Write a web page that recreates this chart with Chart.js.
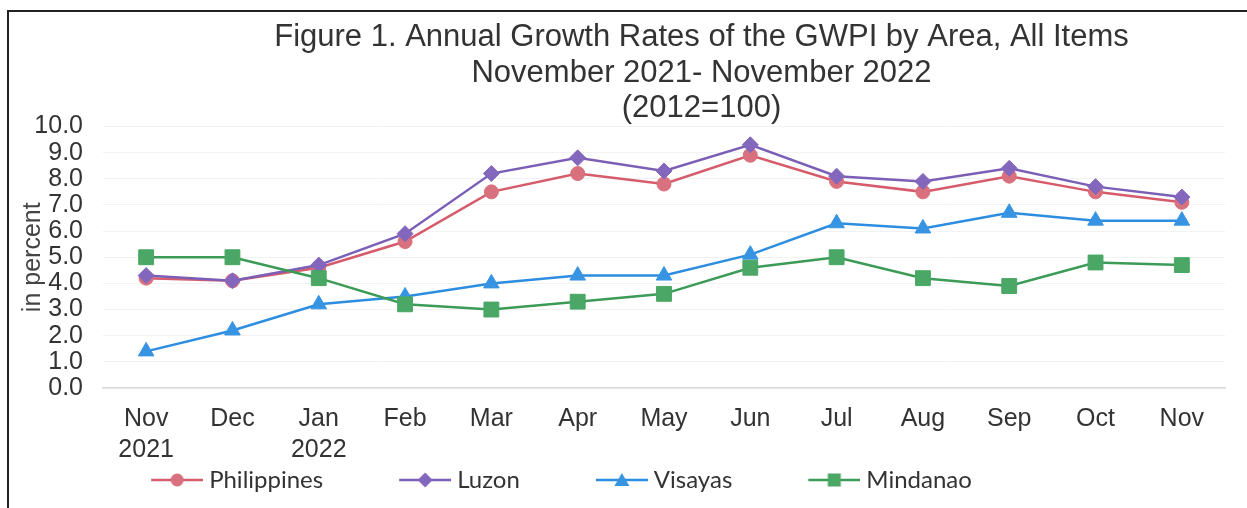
<!DOCTYPE html>
<html>
<head>
<meta charset="utf-8">
<script src="https://cdn.jsdelivr.net/npm/chart.js@4"></script>
<style>
  html, body { margin: 0; padding: 0; background: #fff; }
  #wrap { position: relative; width: 1247px; height: 508px; overflow: hidden; }
  .rule { position: absolute; background: #222; pointer-events: none; }
</style>
</head>
<body>
<div id="wrap">
  <canvas id="chart" width="1247" height="508"></canvas>
  <div class="rule" style="left:7px; top:10px; width:1240px; height:2px;"></div>
  <div class="rule" style="left:7px; top:10px; width:2px; height:498px;"></div>
</div>
<script>
/* DATA */
const months = [['Nov', '2021'], 'Dec', ['Jan', '2022'], 'Feb', 'Mar', 'Apr', 'May', 'Jun', 'Jul', 'Aug', 'Sep', 'Oct', 'Nov']
const philippines = [4.2, 4.1, 4.6, 5.6, 7.5, 8.2, 7.8, 8.9, 7.9, 7.5, 8.1, 7.5, 7.1]
const luzon = [4.3, 4.1, 4.7, 5.9, 8.2, 8.8, 8.3, 9.3, 8.1, 7.9, 8.4, 7.7, 7.3]
const visayas = [1.4, 2.2, 3.2, 3.5, 4.0, 4.3, 4.3, 5.1, 6.3, 6.1, 6.7, 6.4, 6.4]
const mindanao = [5.0, 5.0, 4.2, 3.2, 3.0, 3.3, 3.6, 4.6, 5.0, 4.2, 3.9, 4.8, 4.7]

const titleLines = ['Figure 1. Annual Growth Rates of the GWPI by Area, All Items', 'November 2021- November 2022', '(2012=100)']
const yTitle = 'in percent'

/* STYLE */
const series = [
  { label: 'Philippines', data: philippines, line: '#d65b6b', fill: '#d8707d', marker: 'circle', radius: 7 },
  { label: 'Luzon', data: luzon, line: '#7b5fb6', fill: '#8367bd', marker: 'rectRot', radius: 8 },
  { label: 'Visayas', data: visayas, line: '#2d8de0', fill: '#3794e2', marker: 'triangle', radius: 9 },
  { label: 'Mindanao', data: mindanao, line: '#3b9b57', fill: '#4aa765', marker: 'rect', radius: 10.5 }
]

// legend icon: short line with the marker in the middle (blank margin on the left for spacing)
function makeIcon(s) {
  const c = document.createElement('canvas')
  c.width = 128
  c.height = 20
  const g = c.getContext('2d')
  const cx = 102, cy = 10
  g.strokeStyle = s.line
  g.lineWidth = 2.5
  g.beginPath()
  g.moveTo(76, cy)
  g.lineTo(128, cy)
  g.stroke()
  g.fillStyle = s.fill
  g.beginPath()
  if (s.marker === 'circle') {
    g.arc(cx, cy, 6.5, 0, Math.PI * 2)
  } else if (s.marker === 'rectRot') {
    g.moveTo(cx, cy - 7.5); g.lineTo(cx + 7.5, cy); g.lineTo(cx, cy + 7.5); g.lineTo(cx - 7.5, cy)
  } else if (s.marker === 'triangle') {
    g.moveTo(cx, cy - 7); g.lineTo(cx + 7.5, cy + 6); g.lineTo(cx - 7.5, cy + 6)
  } else {
    g.rect(cx - 6.5, cy - 6.5, 13, 13)
  }
  g.closePath()
  g.fill()
  return c
}
const icons = series.map(makeIcon)

// move title and legend horizontally to where the original has them
const nudge = {
  id: 'nudge',
  afterLayout(chart) {
    const t = chart.titleBlock
    if (t) { t.left += 80; t.right += 80 }
    const l = chart.legend
    if (l) { l.left -= 95; l.right -= 95 }
  }
}

new Chart(document.getElementById('chart'), {
  type: 'line',
  data: {
    labels: months,
    datasets: series.map((s, i) => ({
      label: s.label,
      data: s.data,
      borderColor: s.line,
      backgroundColor: s.fill,
      pointBackgroundColor: s.fill,
      pointBorderColor: s.fill,
      pointStyle: s.marker,
      pointRadius: s.radius,
      pointHoverRadius: s.radius,
      pointBorderWidth: 1,
      borderWidth: 2.5,
      tension: 0,
      fill: false,
      order: series.length - i
    }))
  },
  options: {
    responsive: false,
    animation: false,
    layout: { padding: { left: 18, right: 22, top: 12, bottom: 6 } },
    plugins: {
      title: {
        display: true,
        text: titleLines,
        color: '#333',
        font: { family: 'Liberation Sans', size: 31, weight: 'normal', lineHeight: 1.145 },
        padding: { top: 8, bottom: 0 }
      },
      legend: {
        display: true,
        position: 'bottom',
        labels: {
          color: '#333',
          font: { family: 'Lato', size: 24 },
          usePointStyle: true,
          pointStyleWidth: 116,
          padding: 6,
          sort: (a, b) => a.datasetIndex - b.datasetIndex,
          generateLabels(chart) {
            const items = Chart.defaults.plugins.legend.labels.generateLabels(chart)
            items.forEach(it => { it.pointStyle = icons[it.datasetIndex] })
            return items
          }
        }
      },
      tooltip: { enabled: false }
    },
    scales: {
      x: {
        offset: true,
        grid: { display: false, drawTicks: false },
        border: { display: true, color: '#d9d9d9', width: 1.5 },
        ticks: {
          color: '#333',
          font: { family: 'Liberation Sans', size: 25, lineHeight: 1.24 },
          padding: 16,
          maxRotation: 0,
          autoSkip: false
        },
        afterFit(scale) { scale.height = 74 }
      },
      y: {
        min: 0,
        max: 10,
        grid: { color: '#f2f2f2', drawTicks: false },
        border: { display: false },
        ticks: {
          stepSize: 1,
          autoSkip: false,
          color: '#333',
          font: { family: 'Liberation Sans', size: 25 },
          padding: 20,
          callback: v => v.toFixed(1)
        },
        title: {
          display: true,
          text: yTitle,
          color: '#444',
          font: { family: 'Liberation Sans', size: 25 },
          padding: { top: 0, bottom: 0 }
        },
        afterFit(scale) { scale.width = 85 }
      }
    }
  },
  plugins: [nudge]
})
</script>
</body>
</html>
